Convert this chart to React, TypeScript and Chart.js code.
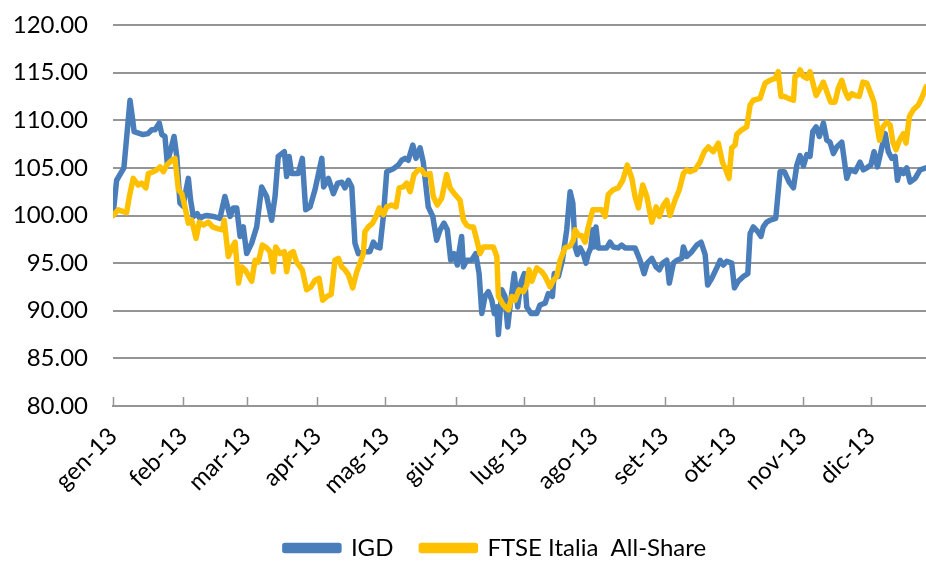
import React, { useEffect, useRef } from "react";
import { Chart, registerables } from "chart.js";

Chart.register(...registerables);

// Month start positions (day of year, 0 = 1 Jan 2013) and their labels
const monthStarts = [0, 31, 59, 90, 120, 151, 181, 212, 243, 273, 304, 334];
const monthLabels = ["gen-13", "feb-13", "mar-13", "apr-13", "mag-13", "giu-13", "lug-13", "ago-13", "set-13", "ott-13", "nov-13", "dic-13"];

// IGD (day of year, index value)
const igdDays = [0, 1.6, 4.8, 7.5, 8.7, 9.3, 13.2, 15.4, 17.1, 18.5, 20.4, 21.5, 22.9, 23.9, 25.1, 26.9, 28.1, 28.8, 29.5, 30.8, 33.2, 34.2, 35.4, 37.1, 38.3, 39.7, 41.3, 44.2, 47.1, 49.3, 51.6, 53.0, 54.5, 56.0, 57.4, 58.9, 61.1, 63.3, 65.5, 67.7, 69.9, 71.4, 72.8, 75.5, 76.5, 77.6, 78.7, 81.6, 83.4, 84.9, 86.8, 89.0, 92.0, 92.8, 94.9, 97.1, 99.0, 100.8, 102.2, 103.7, 105.2, 106.6, 108.1, 110.3, 113.2, 114.7, 116.2, 117.6, 119.1, 120.6, 123.5, 125.7, 127.2, 128.7, 130.1, 132.1, 133.5, 135.3, 136.7, 138.9, 140.9, 142.6, 144.1, 145.8, 147.3, 148.8, 150.3, 151.7, 152.5, 153.6, 154.4, 155.8, 158.0, 159.8, 161.3, 162.5, 163.9, 165.4, 166.9, 168.0, 169.1, 169.8, 171.3, 172.7, 173.9, 174.9, 176.8, 178.3, 179.8, 181.2, 182.3, 184.2, 186.7, 188.1, 190.4, 191.8, 193.6, 194.4, 196.2, 198.0, 199.9, 201.4, 202.6, 203.6, 204.6, 205.8, 207.2, 208.4, 209.4, 210.5, 211.4, 211.9, 212.8, 213.8, 217.5, 219.0, 220.4, 222.6, 224.1, 225.6, 230.0, 232.2, 234.0, 235.4, 237.4, 239.3, 240.7, 242.2, 244.0, 245.1, 246.9, 248.4, 250.6, 251.3, 252.8, 255.0, 257.2, 259.1, 260.9, 262.0, 263.8, 266.0, 267.5, 268.9, 270.4, 272.6, 273.8, 275.5, 277.7, 279.7, 280.7, 282.1, 284.1, 285.5, 286.5, 288.0, 289.5, 292.0, 293.9, 295.8, 297.9, 299.8, 301.3, 302.7, 304.2, 305.7, 307.1, 308.3, 309.8, 311.2, 313.0, 314.5, 315.9, 317.4, 318.9, 321.1, 323.3, 324.7, 327.0, 329.1, 330.6, 332.1, 333.9, 335.3, 336.8, 338.7, 340.2, 341.6, 343.1, 344.6, 345.6, 346.8, 348.2, 349.7, 351.2, 353.4, 355.6, 358.2];
const igdValues = [100, 103.7, 105, 112.1, 110, 108.8, 108.5, 108.6, 109, 109, 109.7, 108.5, 108.3, 105.5, 106.6, 108.3, 106.2, 103.7, 101.3, 101, 103.9, 101.6, 99.9, 100.2, 99.7, 99.9, 100, 99.9, 99.7, 102, 99.9, 100.8, 100.8, 97.8, 98.8, 96, 97.1, 98.8, 103, 102, 99.5, 102, 106.2, 106.7, 104.1, 106.2, 104.4, 104.4, 106, 100.6, 100.9, 102.7, 106, 103, 103.9, 102.3, 103.4, 103.5, 102.9, 103.7, 103, 97.1, 96, 96.2, 96.2, 97.2, 96.7, 96.6, 99.9, 104.6, 104.9, 105.3, 105.8, 106, 105.8, 107.4, 106, 107.1, 105.6, 100.9, 99.9, 97.4, 98.5, 99.2, 98.5, 95.3, 96, 94.8, 96.2, 97.8, 94.6, 95.3, 95.3, 96, 93.9, 89.7, 91.5, 92, 91.1, 89.7, 90.4, 87.5, 92.2, 91.5, 88.3, 90.4, 93.9, 90.4, 93, 93.9, 90.4, 89.7, 89.7, 90.6, 90.8, 91.8, 91.5, 93.9, 93.6, 95.3, 98.5, 102.5, 101.3, 96.7, 95.9, 96.6, 96, 95, 96, 96.6, 98.5, 96.7, 98.8, 96.6, 96.6, 97.2, 96.7, 96.6, 96.9, 96.6, 96.6, 95.3, 93.9, 95, 95.5, 94.6, 94.3, 95, 95.3, 92.9, 95, 95.3, 95.5, 96.7, 95.7, 96.2, 96.9, 97.2, 95.9, 92.7, 93.4, 94.5, 95.3, 94.8, 95.2, 95, 92.4, 93.1, 93.6, 93.9, 98.1, 98.8, 98.3, 97.8, 98.8, 99.3, 99.5, 99.7, 104.6, 104.6, 103.5, 102.9, 105.3, 106.3, 105.2, 106.4, 106.2, 108.8, 109.3, 108.3, 109.7, 107.9, 107.7, 106.5, 107.2, 107.7, 103.9, 104.8, 104.6, 105.6, 104.8, 105, 105.3, 106.7, 105.1, 107.1, 108.6, 106.7, 106, 106.2, 103.7, 104.8, 104.4, 105, 103.5, 103.9, 104.8, 105];

// FTSE Italia All-Share (day of year, index value)
const ftseDays = [0, 2.3, 6.0, 7.2, 8.9, 11.1, 12.6, 14.5, 15.6, 17.8, 19.3, 20.7, 22.2, 23.7, 25.9, 27.3, 28.8, 30.3, 31.7, 33.2, 34.7, 36.6, 38.0, 39.8, 42.0, 43.9, 46.4, 48.3, 49.0, 50.8, 52.6, 53.8, 55.3, 56.7, 58.2, 61.1, 62.6, 64.0, 65.8, 67.7, 69.2, 70.6, 71.7, 73.6, 75.5, 76.5, 78.0, 79.4, 80.9, 83.4, 85.3, 87.2, 89.0, 90.8, 92.4, 94.2, 96.1, 97.8, 99.3, 100.8, 102.2, 103.7, 105.6, 107.4, 108.8, 110.3, 111.0, 112.5, 114.4, 115.9, 117.3, 119.1, 120.6, 122.8, 124.7, 126.1, 127.9, 129.4, 130.9, 132.6, 134.5, 136.0, 137.5, 139.7, 141.1, 142.9, 144.8, 147.0, 148.5, 150.7, 152.9, 154.4, 155.8, 157.3, 158.8, 160.3, 161.7, 163.2, 167.6, 169.1, 169.8, 172.0, 174.2, 175.7, 177.1, 178.9, 180.8, 182.3, 183.3, 184.5, 186.7, 188.9, 190.4, 192.6, 194.0, 195.5, 197.0, 199.2, 201.4, 202.8, 203.6, 205.1, 206.5, 208.0, 209.4, 211.4, 213.1, 215.3, 216.8, 218.2, 220.4, 222.6, 224.6, 226.6, 228.6, 230.0, 231.5, 233.4, 235.2, 237.4, 239.3, 240.7, 242.5, 244.0, 245.4, 247.6, 249.5, 251.3, 252.8, 254.2, 256.4, 258.6, 260.5, 262.3, 264.5, 266.7, 268.5, 270.0, 271.4, 272.6, 274.1, 274.8, 277.0, 279.2, 280.7, 282.1, 285.1, 287.3, 289.5, 291.7, 293.1, 294.3, 295.8, 297.5, 299.8, 300.5, 302.0, 302.7, 304.2, 305.7, 307.1, 308.6, 309.8, 311.2, 313.0, 314.8, 316.2, 318.1, 319.6, 321.1, 322.6, 324.0, 325.5, 327.0, 328.8, 330.4, 332.1, 333.6, 335.3, 336.8, 337.7, 339.2, 340.9, 342.4, 343.6, 345.0, 346.5, 348.2, 349.4, 350.9, 352.6, 354.8, 356.3, 358.2];
const ftseValues = [100, 100.6, 100.3, 102, 103.9, 103.2, 103.4, 102.9, 104.4, 104.6, 104.8, 105.1, 104.6, 105.3, 105.8, 106, 102.7, 102.3, 100.9, 99.2, 99.5, 97.6, 99.3, 99, 99.3, 98.8, 98.6, 98.5, 99.5, 95.7, 96.7, 97.2, 92.9, 94.6, 94.3, 93.1, 95.3, 95.1, 96.9, 96.6, 96.2, 94.1, 96.7, 96, 96.2, 94.1, 96, 96.2, 95.1, 94.3, 92.2, 92.5, 93.2, 93.4, 91.1, 91.5, 91.7, 95.3, 95.5, 94.6, 94.3, 93.8, 92.4, 94.1, 95, 96, 98.3, 98.8, 99.2, 99.9, 100.8, 100.1, 100.9, 101.1, 100.9, 102.9, 103, 103.4, 102.5, 104.3, 104.8, 104.8, 104.3, 104.4, 102, 101.1, 101.8, 104.3, 102.9, 102.2, 101.6, 99.5, 99, 98.8, 98.8, 97.4, 96, 96.7, 96.7, 95.7, 91.5, 90.6, 90.1, 91.5, 91.1, 92.2, 92, 92.7, 94.3, 93.1, 94.5, 94.1, 93.6, 92.5, 93.2, 93.6, 95.3, 96.6, 96.8, 97.4, 98.5, 97.9, 97.9, 97.2, 98.8, 100.6, 100.6, 100.6, 99.9, 102.2, 102.7, 102.9, 103.7, 105.3, 103.9, 102, 100.8, 103.2, 102, 99.3, 100.9, 99.9, 101.1, 101.6, 100, 101.6, 102.7, 104.4, 104.8, 104.6, 104.8, 105.6, 106.7, 107.2, 106.7, 107.6, 105.6, 104.8, 103.9, 107.1, 107.4, 108.5, 109, 109.3, 111.6, 112.1, 112.3, 113.9, 114.2, 114.4, 115.1, 112.5, 112.5, 112.3, 112.1, 114.6, 114.8, 115.3, 114.6, 114.4, 115.1, 113.7, 112.6, 113.2, 114, 112.8, 111.9, 111.9, 113.4, 114.2, 113, 112.3, 112.8, 112.6, 112.5, 114, 113.9, 113, 111.9, 109.2, 107.9, 109.3, 109.8, 109.5, 107.7, 106.9, 107.9, 108.6, 107.6, 110.4, 111.1, 111.6, 112.3, 113.5];

const FONT = "Lato";
const GRID = "#959595";
const PLOT_BOTTOM = 406; // bottom of plot area in the canvas
const LEGEND_TEXT_Y = 548; // vertical centre of the legend row
const LEGEND_PAD = 28;

const insideTicks = {
  id: "insideTicks",
  afterDraw(chart: any) {
    const x = chart.scales.x;
    const ctx = chart.ctx;
    const bottom = chart.chartArea.bottom;
    ctx.save();
    ctx.strokeStyle = GRID;
    ctx.lineWidth = 1.5;
    monthStarts.forEach((d) => {
      const px = Math.round(x.getPixelForValue(d)) + 0.5;
      ctx.beginPath();
      ctx.moveTo(px, bottom);
      ctx.lineTo(px, bottom - 9);
      ctx.stroke();
    });
    ctx.restore();
  },
};

// place the legend row slightly right of canvas centre and at the reference height
const legendShift = {
  id: "legendShift",
  afterLayout(chart: any) {
    const lg = chart.legend;
    if (!lg) return;
    const dx = (chart.chartArea.left + chart.chartArea.right) / 2 - (lg.left + lg.right) / 2 - 24;
    lg.left += dx;
    lg.right += dx;
    const dy = LEGEND_TEXT_Y - 12 - LEGEND_PAD - lg.top;
    lg.top += dy;
    lg.bottom += dy;
  },
};

export default function App() {
  const ref = useRef<HTMLCanvasElement>(null);
  useEffect(() => {
    if (!ref.current) return;
    const chart = new Chart(ref.current, {
      type: "line",
      data: {
        datasets: [
          {
            label: "IGD",
            data: igdDays.map((d, i) => ({ x: d, y: igdValues[i] })),
            borderColor: "#4A7EBB",
            backgroundColor: "#4A7EBB",
            borderWidth: 5.5,
            pointRadius: 0,
            borderJoinStyle: "round",
            borderCapStyle: "round",
            order: 1,
          },
          {
            label: "FTSE Italia  All-Share",
            data: ftseDays.map((d, i) => ({ x: d, y: ftseValues[i] })),
            borderColor: "#FFC000",
            backgroundColor: "#FFC000",
            borderWidth: 5.5,
            pointRadius: 0,
            borderJoinStyle: "round",
            borderCapStyle: "round",
            order: 0,
          },
        ],
      },
      options: {
        responsive: false,
        animation: false,
        layout: { padding: { left: 0, right: 0, top: 25, bottom: 0 } },
        plugins: {
          tooltip: { enabled: false },
          legend: {
            position: "bottom",
            labels: {
              font: { family: FONT, size: 24 },
              color: "#000",
              boxWidth: 54,
              boxHeight: 5,
              padding: LEGEND_PAD,
              sort: (a: any, b: any) => a.datasetIndex - b.datasetIndex,
            },
          },
        },
        scales: {
          x: {
            type: "linear",
            min: 0,
            max: 358.2,
            afterBuildTicks: (axis: any) => {
              axis.ticks = monthStarts.map((v) => ({ value: v }));
            },
            afterFit: (axis: any) => {
              const lgH = axis.chart.legend ? axis.chart.legend.height : 0;
              axis.height = axis.chart.height - PLOT_BOTTOM - lgH;
            },
            ticks: {
              autoSkip: false,
              maxRotation: 45,
              minRotation: 45,
              padding: 8,
              font: { family: FONT, size: 24 },
              color: "#000",
              callback: (_v: any, i: number) => monthLabels[i],
            },
            grid: { display: false },
            border: { display: true, color: GRID, width: 2 },
          },
          y: {
            min: 80,
            max: 120,
            afterFit: (axis: any) => {
              axis.width = 113;
              axis.paddingTop = 0;
              axis.paddingBottom = 0;
            },
            ticks: {
              stepSize: 5,
              padding: 25,
              font: { family: FONT, size: 24 },
              color: "#000",
              callback: (v: any) => Number(v).toFixed(2),
            },
            grid: { color: GRID, lineWidth: 2, drawTicks: false },
            border: { display: false },
          },
        },
      },
      plugins: [insideTicks, legendShift],
    });
    return () => chart.destroy();
  }, []);
  return (
    <div style={{ position: "absolute", left: 0, top: 0, width: 926, height: 563 }}>
      <canvas ref={ref} width={926} height={563} />
    </div>
  );
}
